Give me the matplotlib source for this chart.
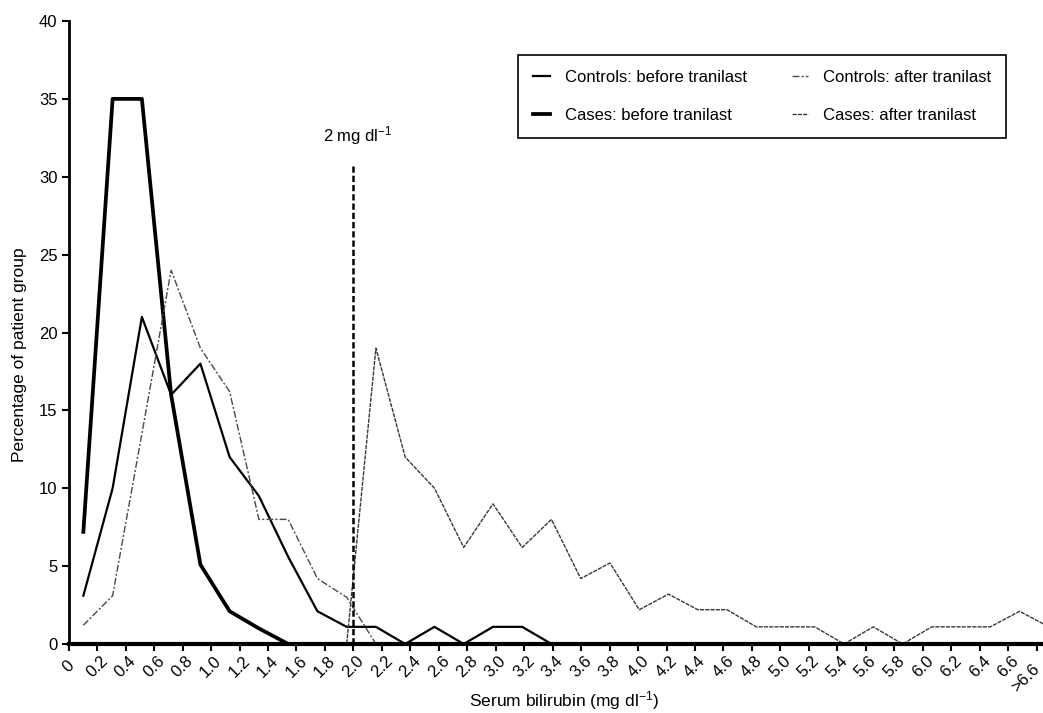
import matplotlib
matplotlib.use('Agg')
import matplotlib.pyplot as plt

plt.rcParams['font.family'] = ['Liberation Sans', 'DejaVu Sans']
plt.rcParams['mathtext.fontset'] = 'custom'
plt.rcParams['mathtext.rm'] = 'Liberation Sans'
plt.rcParams['mathtext.it'] = 'Liberation Sans:italic'

# bin midpoints (mg/dl)
bili_mid = [0.1, 0.3, 0.5, 0.7, 0.9, 1.1, 1.3, 1.5, 1.7, 1.9, 2.1, 2.3,
            2.5, 2.7, 2.9, 3.1, 3.3, 3.5, 3.7, 3.9, 4.1, 4.3, 4.5, 4.7,
            4.9, 5.1, 5.3, 5.5, 5.7, 5.9, 6.1, 6.3, 6.5, 6.7]

# percentage of patient group
controls_before = [3.1, 10.0, 21.0, 16.0, 18.0, 12.0, 9.5, 5.6, 2.1, 1.1, 1.1, 0, 1.1,
                   0, 1.1, 1.1, 0, 0, 0, 0, 0, 0, 0, 0, 0, 0, 0, 0, 0, 0, 0, 0, 0, 0]
cases_before = [7.2, 35.0, 35.0, 16.0, 5.1, 2.1, 1.0, 0, 0, 0, 0, 0, 0, 0, 0, 0, 0,
                0, 0, 0, 0, 0, 0, 0, 0, 0, 0, 0, 0, 0, 0, 0, 0, 0]
controls_after = [1.2, 3.1, 13.5, 24.0, 19.0, 16.2, 8.0, 8.0, 4.2, 3.0, 0, 0, 0, 0,
                  0, 0, 0, 0, 0, 0, 0, 0, 0, 0, 0, 0, 0, 0, 0, 0, 0, 0, 0, 0]
cases_after = [0, 0, 0, 0, 0, 0, 0, 0, 0, 0, 19.0, 12.0, 10.0, 6.2, 9.0, 6.2, 8.0,
               4.2, 5.2, 2.2, 3.2, 2.2, 2.2, 1.1, 1.1, 1.1, 0, 1.1, 0, 1.1, 1.1,
               1.1, 2.1, 1.1]

tick_vals = [0, 0.2, 0.4, 0.6, 0.8, 1.0, 1.2, 1.4, 1.6, 1.8, 2.0, 2.2, 2.4, 2.6,
             2.8, 3.0, 3.2, 3.4, 3.6, 3.8, 4.0, 4.2, 4.4, 4.6, 4.8, 5.0, 5.2, 5.4,
             5.6, 5.8, 6.0, 6.2, 6.4, 6.6, 6.8]
tick_labels = ['0', '0.2', '0.4', '0.6', '0.8', '1.0', '1.2', '1.4', '1.6', '1.8',
               '2.0', '2.2', '2.4', '2.6', '2.8', '3.0', '3.2', '3.4', '3.6', '3.8',
               '4.0', '4.2', '4.4', '4.6', '4.8', '5.0', '5.2', '5.4', '5.6', '5.8',
               '6.0', '6.2', '6.4', '6.6', '>6.6']
cutoff = 2.0

# the printed axis in the source runs a little short of the plotted bins
TICK_SCALE = 0.973

fig = plt.figure(figsize=(10.43, 7.13), dpi=100)
ax = fig.add_axes([0.0659, 0.0968, 0.9341, 0.8737])

ax.plot(bili_mid, controls_before, color='black', lw=1.6,
        label='Controls: before tranilast')
ax.plot(bili_mid, cases_before, color='black', lw=2.7,
        label='Cases: before tranilast')
ax.plot(bili_mid, controls_after, color='#4a4a4a', lw=1.0,
        linestyle=(0, (5, 1.5, 1.5, 1.5)), label='Controls: after tranilast')
ax.plot(bili_mid, cases_after, color='#383838', lw=1.0,
        linestyle=(0, (3, 0.8)), label='Cases: after tranilast')

xc = cutoff * TICK_SCALE
ax.plot([xc, xc], [0, 30.9], color='black', lw=1.8, linestyle=(0, (2.5, 1.2)))
ax.text(xc + 0.03, 32.3, '2 mg dl$^{-1}$', ha='center', va='baseline', fontsize=12)

ax.set_xlim(0, 6.66)
ax.set_ylim(0, 40)
ax.set_yticks([0, 5, 10, 15, 20, 25, 30, 35, 40])
ax.set_xticks([v * TICK_SCALE for v in tick_vals])
ax.set_xticklabels(tick_labels, rotation=45, ha='center', va='center',
                   rotation_mode='anchor')
# keep the last label inside the figure edge
ax.get_xticklabels()[-1].set_horizontalalignment('right')

ax.tick_params(axis='both', direction='out', length=5, width=1.5,
               labelsize=12, color='black')
ax.tick_params(axis='x', pad=11)
ax.tick_params(axis='y', pad=3)

for s in ['top', 'right']:
    ax.spines[s].set_visible(False)
ax.spines['left'].set_linewidth(2.0)
ax.spines['bottom'].set_linewidth(3.0)

ax.set_ylabel('Percentage of patient group', fontsize=12.5)
ax.yaxis.set_label_coords(-0.043, 0.464)
ax.set_xlabel('Serum bilirubin (mg dl$^{-1}$)', fontsize=12.5)
ax.xaxis.set_label_coords(0.508, -0.072)

leg = ax.legend(ncol=2, loc='upper left', bbox_to_anchor=(0.461, 0.945),
                fontsize=12, frameon=True, fancybox=False, framealpha=1,
                edgecolor='black', handlelength=1.0, handletextpad=0.9,
                columnspacing=2.7, labelspacing=1.35, borderpad=0.9,
                borderaxespad=0)
leg.get_frame().set_linewidth(1.2)

fig.savefig('out.png', dpi=100)
